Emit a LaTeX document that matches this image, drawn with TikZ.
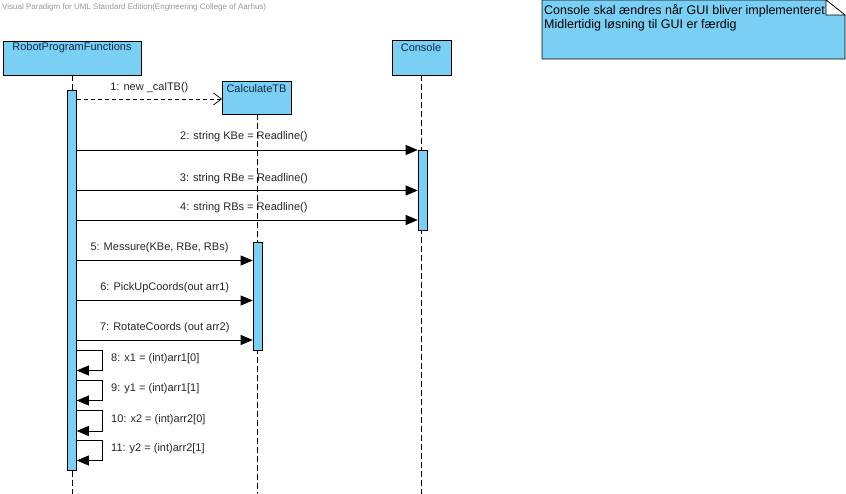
\documentclass[tikz,border=0pt]{standalone}
\usepackage{fontspec}
\setmainfont{Liberation Sans}
\usetikzlibrary{arrows.meta}
\definecolor{vpblue}{RGB}{122,207,245}
\definecolor{vptext}{RGB}{20,40,70}
\definecolor{vpgray}{RGB}{150,150,150}
\tikzset{
  objbox/.style={draw=black, fill=vpblue, line width=0.8pt, minimum height=#1, inner sep=0pt},
  actbar/.style={draw=black, fill=vpblue, line width=0.6pt},
  lifeline/.style={draw=black, line width=0.6pt, dash pattern=on 6pt off 3pt},
  msg/.style={draw=black, line width=0.6pt, -{Triangle[length=12pt,width=10pt]}},
  createmsg/.style={draw=black, line width=0.6pt, dash pattern=on 4pt off 3pt, -{Straight Barb[length=8pt,width=12pt,line width=0.7pt]}},
  msglabel/.style={font=\fontsize{11}{13}\selectfont, text=black!85, inner sep=0pt},
  boxlabel/.style={font=\fontsize{11}{13}\selectfont, text=vptext, inner sep=0pt}
}
\begin{document}
\begin{tikzpicture}[x=1pt,y=-1pt]
\useasboundingbox (0,0) rectangle (846,494);
\fill[white] (0,0) rectangle (846,494);

% watermark
\node[anchor=west, font=\fontsize{8}{9}\selectfont, text=vpgray, inner sep=0pt] (wm) at (2,7) {Visual Paradigm for UML Standard Edition(Engineering College of Aarhus)};

% note
\path[draw=black, fill=vpblue, line width=0.8pt] (542,0) -- (826,0) -- (845,15) -- (845,59) -- (542,59) -- cycle;
\path[draw=black, fill=white, line width=0.6pt] (826,0) -- (826,15) -- (845,15) -- cycle;
\node[anchor=north west, align=left, font=\fontsize{12.5}{14}\selectfont, text=black, inner sep=0pt] (note) at (544,4)
  {Console skal ændres når GUI bliver implementeret\\Midlertidig løsning til GUI er færdig};

% lifeline heads
\path[draw=black, fill=vpblue, line width=0.8pt] (3,41) rectangle (141,75);
\node[boxlabel] (rpf) at (72,48) {RobotProgramFunctions};
\path[draw=black, fill=vpblue, line width=0.8pt] (392,40) rectangle (451,75);
\node[boxlabel] (con) at (421,48) {Console};

% lifelines
\draw[lifeline] (72,75) -- (72,494);
\draw[lifeline] (421,75) -- (421,494);
\draw[lifeline] (257,114) -- (257,494);

% activation bars
\node[actbar, minimum width=9pt, minimum height=380pt, inner sep=0pt, anchor=north] (barA) at (72,90) {};
\node[actbar, minimum width=9pt, minimum height=80pt, inner sep=0pt, anchor=north] (barC) at (422.5,150) {};
\node[actbar, minimum width=9pt, minimum height=108pt, inner sep=0pt, anchor=north] (barT) at (257.5,242) {};

% created object
\node[objbox=33pt, minimum width=69pt, anchor=north west] (calc) at (222,81) {};
\node[boxlabel] (calclbl) at (256.5,89) {CalculateTB};

% message 1
\coordinate (m1) at (0,99);
\draw[createmsg] (barA.east |- m1) -- (calc.west |- m1) node[msglabel, midway, yshift=11pt] {1: new \_calTB()};

% messages 2-4
\coordinate (m2) at (0,150);
\coordinate (m3) at (0,190.5);
\coordinate (m4) at (0,220);
\draw[msg] (barA.east |- m2) -- (barC.west |- m2) node[msglabel, pos=0.49, yshift=13pt] {2: string KBe = Readline()};
\draw[msg] (barA.east |- m3) -- (barC.west |- m3) node[msglabel, pos=0.49, yshift=12pt] {3: string RBe = Readline()};
\draw[msg] (barA.east |- m4) -- (barC.west |- m4) node[msglabel, pos=0.49, yshift=12pt] {4: string RBs = Readline()};

% messages 5-7
\coordinate (m5) at (0,260.5);
\coordinate (m6) at (0,300.5);
\coordinate (m7) at (0,340);
\draw[msg] (barA.east |- m5) -- (barT.west |- m5) node[msglabel, pos=0.47, yshift=13pt] {5: Messure(KBe, RBe, RBs)};
\draw[msg] (barA.east |- m6) -- (barT.west |- m6) node[msglabel, pos=0.5, yshift=13pt] {6: PickUpCoords(out arr1)};
\draw[msg] (barA.east |- m7) -- (barT.west |- m7) node[msglabel, pos=0.5, yshift=12pt] {7: RotateCoords (out arr2)};

% self messages
\foreach \t/\lbl [count=\i] in {350/{8: x1 = (int)arr1[0]}, 380/{9: y1 = (int)arr1[1]}, 410.5/{10: x2 = (int)arr2[0]}, 440/{11: y2 = (int)arr2[1]}} {
  \coordinate (s\i a) at (0,\t);
  \coordinate (s\i b) at (0,\t+20.5);
  \coordinate (s\i r) at (102,\t);
  \draw[msg] (barA.east |- s\i a) -- (s\i r) -- (s\i r |- s\i b) -- (barA.east |- s\i b);
  \node[msglabel, anchor=west] (l\i) at (111,\t+9) {\lbl};
}
\end{tikzpicture}
\end{document}
